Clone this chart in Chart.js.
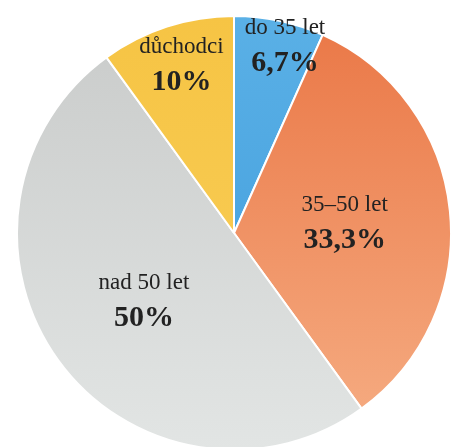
<!DOCTYPE html>
<html>
<head>
<meta charset="utf-8">
<script src="https://cdn.jsdelivr.net/npm/chart.js@4"></script>
<style>
  html, body { margin: 0; padding: 0; background: #fff; overflow: hidden; }
  #wrap { position: absolute; left: 16px; top: 15px; width: 436px; height: 436px; }
</style>
</head>
<body>
<div id="wrap"><canvas id="pie"></canvas></div>
<script>
const categories = ["do 35 let", "35–50 let", "nad 50 let", "důchodci"];
const shares = [6.7, 33.3, 50, 10];
const shareLabels = ["6,7%", "33,3%", "50%", "10%"];

// gradient stops per slice (top -> bottom)
const sliceColors = [
  ["#5ab0e6", "#3e9bdb"],
  ["#ea7746", "#f6ae84"],
  ["#c9cbca", "#e2e5e4"],
  ["#f6c444", "#f9cf5a"],
];
// label anchor offsets as a fraction of the radius
const labelOffsets = [[0.235, -0.866], [0.51, -0.05], [-0.415, 0.309], [-0.242, -0.779]];

function sliceFill(context) {
  const chart = context.chart;
  const area = chart.chartArea;
  const c = sliceColors[context.dataIndex];
  if (!area) return c[0];
  const g = chart.ctx.createLinearGradient(0, area.top, 0, area.bottom);
  g.addColorStop(0, c[0]);
  g.addColorStop(1, c[1]);
  return g;
}

const labelPlugin = {
  id: "sliceLabels",
  afterDatasetsDraw(chart) {
    const ctx = chart.ctx;
    const meta = chart.getDatasetMeta(0);
    ctx.save();
    ctx.textAlign = "center";
    ctx.textBaseline = "middle";
    ctx.fillStyle = "#222222";
    meta.data.forEach(function (arc, i) {
      const r = arc.outerRadius;
      const x = arc.x + r * labelOffsets[i][0];
      const y = arc.y + r * labelOffsets[i][1];
      ctx.font = "23px 'Liberation Serif'";
      ctx.fillText(categories[i], x, y - 17);
      ctx.font = "bold 30px 'Liberation Serif'";
      ctx.fillText(shareLabels[i], x, y + 18);
    });
    ctx.restore();
  },
};

new Chart(document.getElementById("pie").getContext("2d"), {
  type: "pie",
  data: {
    labels: categories,
    datasets: [
      {
        data: shares,
        backgroundColor: sliceFill,
        borderColor: "#ffffff",
        borderWidth: 2,
      },
    ],
  },
  options: {
    responsive: true,
    maintainAspectRatio: false,
    animation: false,
    layout: { padding: 0 },
    plugins: {
      legend: { display: false },
      tooltip: { enabled: false },
    },
  },
  plugins: [labelPlugin],
});
</script>
</body>
</html>
